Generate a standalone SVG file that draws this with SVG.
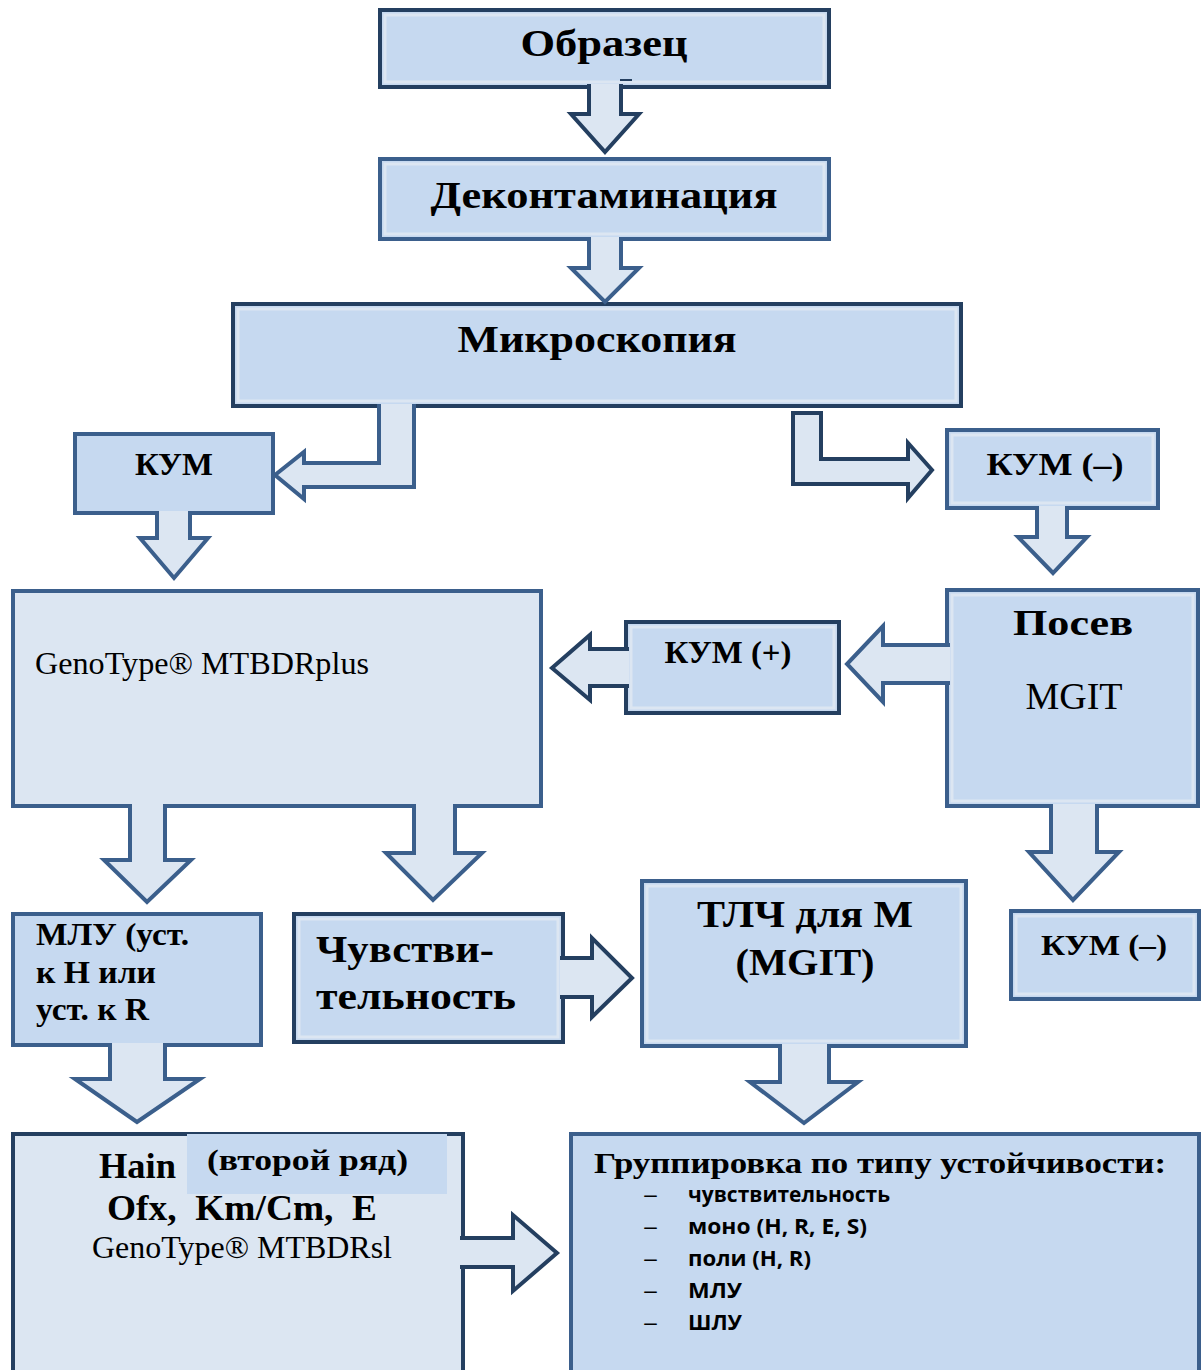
<svg xmlns="http://www.w3.org/2000/svg" width="1202" height="1370" viewBox="0 0 1202 1370">
<style>
.bx{fill:#c6d9f0;stroke-width:4}
.lt{fill:#dce6f2}
.dk{stroke:#243f60}
.md{stroke:#3b5f8c}
.hl{fill:none;stroke:#dce6f2;stroke-width:3}
.ar{fill:#dce6f2;stroke-width:4;stroke-linejoin:miter}
.t{font-family:"Liberation Serif","Times New Roman",serif;fill:#000}
.b{font-weight:bold}
.c{text-anchor:middle}
.s{font-family:"Open Sans","Noto Sans",sans-serif;font-weight:bold;font-size:21px;fill:#000}
.d{font-family:"Open Sans","Noto Sans",sans-serif;font-size:21px;fill:#000}
</style>
<rect width="1202" height="1370" fill="#ffffff"/>
<g id="n-obrazec">
<rect class="bx dk" x="380" y="10" width="449" height="77"/>
<rect class="hl" x="385" y="15" width="439" height="67"/>
<text class="t b c" x="604" y="56" font-size="37" textLength="167" lengthAdjust="spacingAndGlyphs">Образец</text>
</g>
<g id="n-dekont">
<rect class="bx md" x="380" y="159" width="449" height="80"/>
<rect class="hl" x="385" y="164" width="439" height="70"/>
<text class="t b c" x="604" y="208" font-size="37" textLength="347" lengthAdjust="spacingAndGlyphs">Деконтаминация</text>
</g>
<g id="n-mikro">
<rect class="bx dk" x="233" y="304" width="728" height="102" stroke-width="5"/>
<rect class="hl" x="238" y="309" width="718" height="92"/>
<text class="t b c" x="597" y="352" font-size="37" textLength="279" lengthAdjust="spacingAndGlyphs">Микроскопия</text>
</g>
<g id="n-kum">
<rect class="bx md" x="75" y="434" width="198" height="79"/>
<text class="t b c" x="174" y="475" font-size="32" textLength="78" lengthAdjust="spacingAndGlyphs">КУМ</text>
</g>
<g id="n-kum-neg">
<rect class="bx md" x="947" y="430" width="211" height="78"/>
<rect class="hl" x="952" y="435" width="201" height="68"/>
<text class="t b c" x="1055" y="475" font-size="32" textLength="137" lengthAdjust="spacingAndGlyphs">КУМ (–)</text>
</g>
<g id="n-genotype">
<rect class="bx lt md" x="13" y="591" width="528" height="215"/>
<text class="t" x="35" y="674" font-size="31" textLength="334" lengthAdjust="spacingAndGlyphs">GenoType® MTBDRplus</text>
</g>
<g id="n-kum-pos">
<rect class="bx dk" x="626" y="622" width="213" height="91"/>
<rect class="hl" x="631" y="627" width="203" height="81"/>
<text class="t b c" x="728" y="663" font-size="32" textLength="127" lengthAdjust="spacingAndGlyphs">КУМ (+)</text>
</g>
<g id="n-posev">
<rect class="bx md" x="947" y="590" width="251" height="216"/>
<rect class="hl" x="952" y="595" width="241" height="206"/>
<text class="t b c" x="1073" y="635" font-size="36" textLength="120" lengthAdjust="spacingAndGlyphs">Посев</text>
<text class="t c" x="1074" y="709" font-size="38">MGIT</text>
</g>
<g id="n-mlu">
<rect class="bx md" x="13" y="914" width="248" height="131"/>
<text class="t b" x="36" y="945" font-size="31" textLength="153" lengthAdjust="spacingAndGlyphs">МЛУ (уст.</text>
<text class="t b" x="36" y="983" font-size="31" textLength="120" lengthAdjust="spacingAndGlyphs">к H или</text>
<text class="t b" x="36" y="1020" font-size="31" textLength="113" lengthAdjust="spacingAndGlyphs">уст. к R</text>
</g>
<g id="n-chuvst">
<rect class="bx dk" x="294" y="914" width="269" height="128"/>
<rect class="hl" x="299" y="919" width="259" height="118"/>
<text class="t b" x="316" y="962" font-size="37" textLength="178" lengthAdjust="spacingAndGlyphs">Чувстви-</text>
<text class="t b" x="316" y="1009" font-size="37" textLength="200" lengthAdjust="spacingAndGlyphs">тельность</text>
</g>
<g id="n-tlch">
<rect class="bx md" x="642" y="881" width="324" height="165"/>
<rect class="hl" x="647" y="886" width="314" height="155"/>
<text class="t b c" x="805" y="927" font-size="37" textLength="216" lengthAdjust="spacingAndGlyphs">ТЛЧ для М</text>
<text class="t b c" x="805" y="975" font-size="37" textLength="139" lengthAdjust="spacingAndGlyphs">(MGIT)</text>
</g>
<g id="n-kum-neg2">
<rect class="bx md" x="1011" y="911" width="188" height="88"/>
<rect class="hl" x="1016" y="916" width="178" height="78"/>
<text class="t b c" x="1104" y="955" font-size="30" textLength="126" lengthAdjust="spacingAndGlyphs">КУМ (–)</text>
</g>
<g id="n-hain">
<rect class="bx lt dk" x="13" y="1134" width="450" height="240"/>
<rect x="187" y="1134" width="260" height="60" fill="#c6d9f0"/>
<text class="t b" x="99" y="1178" font-size="36" textLength="77" lengthAdjust="spacingAndGlyphs">Hain</text>
<text class="t b" x="207" y="1170" font-size="30" textLength="201" lengthAdjust="spacingAndGlyphs">(второй ряд)</text>
<text class="t b c" x="242" y="1220" font-size="36" xml:space="preserve" textLength="270" lengthAdjust="spacingAndGlyphs">Ofx,  Km/Cm,  E</text>
<text class="t c" x="242" y="1258" font-size="31" textLength="300" lengthAdjust="spacingAndGlyphs">GenoType® MTBDRsl</text>
</g>
<g id="n-group">
<rect class="bx md" x="571" y="1134" width="628" height="240"/>
<text class="t b" x="594" y="1173" font-size="30" textLength="572" lengthAdjust="spacingAndGlyphs">Группировка по типу устойчивости:</text>
<text class="d" x="643" y="1202" textLength="15" lengthAdjust="spacingAndGlyphs">–</text>
<text class="s" x="688" y="1202" textLength="202" lengthAdjust="spacingAndGlyphs">чувствительность</text>
<text class="d" x="643" y="1234" textLength="15" lengthAdjust="spacingAndGlyphs">–</text>
<text class="s" x="688" y="1234" textLength="179" lengthAdjust="spacingAndGlyphs">моно (H, R, E, S)</text>
<text class="d" x="643" y="1266" textLength="15" lengthAdjust="spacingAndGlyphs">–</text>
<text class="s" x="688" y="1266" textLength="123" lengthAdjust="spacingAndGlyphs">поли (H, R)</text>
<text class="d" x="643" y="1298" textLength="15" lengthAdjust="spacingAndGlyphs">–</text>
<text class="s" x="688" y="1298" textLength="54" lengthAdjust="spacingAndGlyphs">МЛУ</text>
<text class="d" x="643" y="1330" textLength="15" lengthAdjust="spacingAndGlyphs">–</text>
<text class="s" x="688" y="1330" textLength="54" lengthAdjust="spacingAndGlyphs">ШЛУ</text>
</g>
<g id="connectors">
<path class="ar dk" d="M621,84 V114 H639 L605,152 L571,114 H589 V84"/>
<rect x="620" y="79" width="12" height="2" fill="#243f60"/>
<path class="ar md" d="M621,237 V268 H639 L605,302 L571,268 H589 V237"/>
<path class="ar md" d="M379,404 V463 H304 V452 L275,475 L304,499 V487 H414 V404"/>
<path class="ar dk" d="M793,413 H821 V459 H908 V443 L932,470 L908,498 V484 H793 Z" stroke-linejoin="round"/>
<path class="ar md" d="M190,511 V538 H208 L174,578 L140,538 H157 V511"/>
<path class="ar md" d="M1067,506 V537 H1087 L1053,573 L1018,537 H1037 V506"/>
<path class="ar dk" d="M629,686 H590 V700 L552,668 L590,635 V649 H629"/>
<path class="ar md" d="M950,683 H883 V702 L847,664 L883,626 V645 H950"/>
<path class="ar md" d="M165,804 V860 H191 L147,902 L104,860 H130 V804"/>
<path class="ar md" d="M455,804 V853 H482 L433,900 L386,853 H414 V804"/>
<path class="ar md" d="M1097,804 V852 H1119 L1073,900 L1029,852 H1051 V804"/>
<path class="ar md" d="M165,1043 V1079 H200 L137,1122 L75,1079 H110 V1043"/>
<path class="ar dk" d="M560,958 H592 V938 L632,978 L592,1017 V997 H560"/>
<path class="ar md" d="M829,1044 V1082 H858 L804,1123 L750,1082 H780 V1044"/>
<path class="ar dk" d="M460,1238 H513 V1215 L557,1253 L513,1291 V1267 H460"/>
</g>
</svg>
